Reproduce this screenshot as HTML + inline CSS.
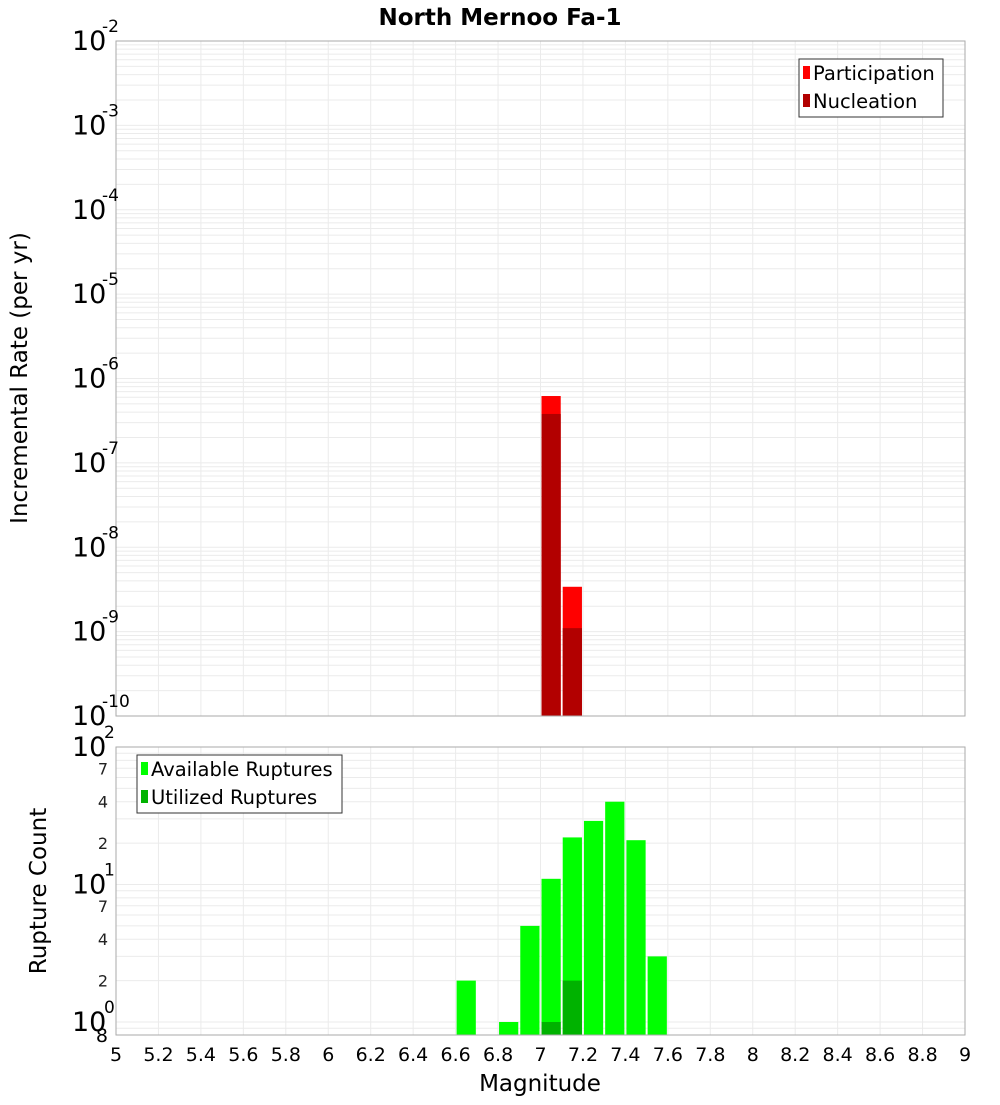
<!DOCTYPE html>
<html><head><meta charset="utf-8"><style>
body{margin:0;background:#fff;font-family:"Liberation Sans","DejaVu Sans",sans-serif}
svg text{font-family:"DejaVu Sans","Liberation Sans",sans-serif}
</style></head><body>
<svg id="c" width="1000" height="1100" viewBox="0 0 1000 1100">
<text x="500" y="25" text-anchor="middle" font-size="23" font-weight="bold">North Mernoo Fa-1</text>
<text transform="translate(27,378) rotate(-90)" text-anchor="middle" font-size="23">Incremental Rate (per yr)</text>
<text transform="translate(46,891) rotate(-90)" text-anchor="middle" font-size="23">Rupture Count</text>
<text x="540" y="1091" text-anchor="middle" font-size="23">Magnitude</text>
<g id="g"></g>
</svg>
<script>
const mags=[6.65,6.85,6.95,7.05,7.15,7.25,7.35,7.45,7.55];
const available=[2,1,5,11,22,29,40,21,3];
const utilMags=[7.05,7.15];
const utilized=[1,2];
const rateMags=[7.05,7.15];
const participation=[6.2e-7,3.4e-9];
const nucleation=[3.8e-7,1.1e-9];
const xTicks=[5,5.2,5.4,5.6,5.8,6,6.2,6.4,6.6,6.8,7,7.2,7.4,7.6,7.8,8,8.2,8.4,8.6,8.8,9];
const topExps=[-2,-3,-4,-5,-6,-7,-8,-9,-10];
const botExps=[2,1,0];
const botMinor=[7,4,2];

const NS="http://www.w3.org/2000/svg";
const g=document.getElementById('g');
function el(t,a,txt){const e=document.createElementNS(NS,t);for(const k in a)e.setAttribute(k,a[k]);if(txt!==undefined)e.textContent=txt;g.appendChild(e);return e;}
const L=116,R=965;
const x=m=>L+(m-5)/4*(R-L);
const T1=41,B1=716;
const y1=v=>T1+(-2-Math.log10(v))*(B1-T1)/8;
const T2=747,B2=1035,dec2=137.5;
const y2=v=>T2+(2-Math.log10(v))*dec2;

for(let e=-10;e<-2;e++)for(let k=1;k<10;k++){const yy=y1(k*Math.pow(10,e));
 const l=el('line',{x1:L,x2:R,y1:yy,y2:yy,stroke:'#ebebeb','stroke-width':1});
 }
for(const t of xTicks){for(const [a,b] of [[T1,B1],[T2,B2]]){
 const l=el('line',{x1:x(t),x2:x(t),y1:a,y2:b,stroke:'#ebebeb','stroke-width':1});
 }}
for(let e=-1;e<2;e++)for(let k=1;k<10;k++){const v=k*Math.pow(10,e);const yy=y2(v);if(yy>B2||yy<T2)continue;
 const l=el('line',{x1:L,x2:R,y1:yy,y2:yy,stroke:'#ebebeb','stroke-width':1});
 }

const bw=(x(0.1)-x(0))-2;
rateMags.forEach((m,i)=>{
 const r=el('rect',{x:x(m)-bw/2,y:y1(participation[i]),width:bw,height:B1-y1(participation[i]),fill:'#ff0000'});
 
 const n=el('rect',{x:x(m)-bw/2,y:y1(nucleation[i]),width:bw,height:B1-y1(nucleation[i]),fill:'#b20000'});
 
});
mags.forEach((m,i)=>{
 const r=el('rect',{x:x(m)-bw/2,y:y2(available[i]),width:bw,height:B2-y2(available[i]),fill:'#00ff00'});
 
});
utilMags.forEach((m,i)=>{
 const r=el('rect',{x:x(m)-bw/2,y:y2(utilized[i]),width:bw,height:B2-y2(utilized[i]),fill:'#00b200'});
 
});

for(const [a,b] of [[T1,B1],[T2,B2]]){const f=el('rect',{x:L,y:a,width:R-L,height:b-a,fill:'none',stroke:'#aaa','stroke-width':1});
 }

topExps.forEach(e=>{const yy=y1(Math.pow(10,e));
 const t=el('text',{x:72,y:yy+9,'font-size':27},'10');
 const s=el('text',{x:102,y:yy-9,'font-size':17},String(e));});
botExps.forEach(e=>{const yy=y2(Math.pow(10,e));
 const t=el('text',{x:72,y:yy+9,'font-size':27},'10');
 const s=el('text',{x:104,y:yy-9,'font-size':17},String(e));});
[1,0].forEach(e=>botMinor.forEach(k=>{const yy=y2(k*Math.pow(10,e));
 const t=el('text',{x:108,y:yy+6,'font-size':16,'text-anchor':'end',fill:'#222'},String(k));}));
const e8=el('text',{x:108,y:1042,'font-size':19,'text-anchor':'end'},'8');
xTicks.forEach(t=>{const l=el('text',{x:x(t),y:1061,'font-size':19,'text-anchor':'middle'},String(t));});

function legend(x0,y0,w,items,name){
 const b=el('rect',{x:x0,y:y0,width:w,height:58,fill:'#fff',stroke:'#333','stroke-width':1});
 
 items.forEach((it,i)=>{const yy=y0+14+i*28;
  const s=el('rect',{x:x0+4,y:yy-7,width:7,height:13,fill:it[1]});
  const t=el('text',{x:x0+14,y:yy+7,'font-size':19.5},it[0]);});
}
legend(799,59,144,[['Participation','#ff0000'],['Nucleation','#b20000']],'top-legend');
legend(137,755,205,[['Available Ruptures','#00ff00'],['Utilized Ruptures','#00b200']],'bottom-legend');
</script>
</body></html>
